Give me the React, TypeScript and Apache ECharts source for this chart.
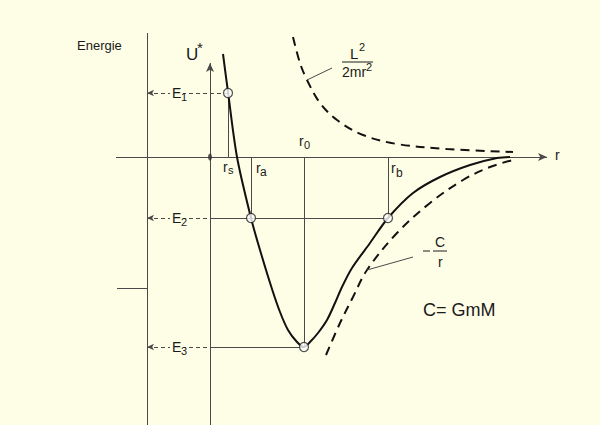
import React, { useEffect, useRef } from 'react';
import * as echarts from 'echarts';

// effective potential U* (r, value)
const uR = [1.3, 1.8, 2.7, 4.1, 5.0, 6.2, 7.0, 7.8, 8.7, 9.4, 10.0, 10.8, 11.7, 12.5, 13.2, 14.2, 16.0, 17.8, 20.3, 23.0, 26.0, 28.7, 30.0];
const uV = [10.3, 6.5, 0, -6.1, -9.3, -13.2, -15.5, -17.3, -18.5, -19.0, -18.5, -17.6, -16.3, -14.6, -13.0, -11.1, -8.6, -6.1, -3.6, -2.0, -0.8, -0.1, 0];
// centrifugal term L^2 / 2mr^2
const centR = [8.3, 9.0, 9.7, 11.0, 12.7, 15.3, 18.7, 23.7, 30.3];
const centV = [12.0, 9.4, 7.7, 5.4, 3.7, 2.2, 1.3, 0.8, 0.5];
// gravitational term -C/r
const gravR = [11.6, 13.0, 14.3, 15.7, 18.7, 22.0, 25.3, 28.0, 30.3];
const gravV = [-19.8, -16.6, -14.0, -11.3, -7.6, -4.6, -2.3, -1.0, -0.3];
// energy levels and radii
const levelE = [6.4, -6.1, -19.0]; // E1, E2, E3
const rS = 1.8;
const rA = 4.1;
const r0 = 9.4;
const rB = 17.8;
// axis extents
const xMin = -21;
const xMax = 39;
const yMin = -26.8;
const yMax = 15.7;
const energyAxisR = -6.3;
const energyAxisTop = 12.4;
const rAxisStart = -9.4;
const rAxisEnd = 33.7;
const uAxisTop = 9.4;
const tickE = -13.1;
const tickStart = -9.3;
const centLeaderEnd = [12.2, 8.9];
const gravLeaderEnd = [20.3, -10.0];

const FONT = '"Liberation Sans", Arial, Helvetica, sans-serif';
const BG = '#FEFEE6';
const INK = '#1a1a1a';
const GREY = '#4a4a4a';

function txt(text: string, x: number, y: number, size: number, extra: any = {}) {
  return {
    type: 'text',
    x,
    y,
    z: 100,
    silent: true,
    style: {
      text,
      fontSize: size,
      fontFamily: FONT,
      fill: INK,
      align: 'left',
      verticalAlign: 'middle',
      ...extra,
    },
  };
}

export default function App() {
  const ref = useRef<HTMLDivElement>(null);
  useEffect(() => {
    if (!ref.current) return;
    const chart = echarts.init(ref.current, null, { renderer: 'svg' });
    const [E1, E2, E3] = levelE;
    const pair = (a: number[], b: number[], endExtra: any = {}) => [
      { coord: a },
      { coord: b, ...endExtra },
    ];
    const maskBg = { backgroundColor: BG, padding: [0, 2] };
    const option: any = {
      animation: false,
      backgroundColor: BG,
      grid: { left: 0, right: 0, top: 0, bottom: 0 },
      xAxis: { type: 'value', min: xMin, max: xMax, show: false },
      yAxis: { type: 'value', min: yMin, max: yMax, show: false },
      series: [
        {
          type: 'line',
          name: 'U*',
          data: uR.map((r, i) => [r, uV[i]]),
          smooth: 0.3,
          showSymbol: false,
          lineStyle: { color: '#111', width: 2 },
          z: 5,
          silent: true,
        },
        {
          type: 'line',
          name: 'L2/2mr2',
          data: centR.map((r, i) => [r, centV[i]]),
          smooth: 0.35,
          showSymbol: false,
          lineStyle: { color: '#111', width: 2, type: [9, 6] },
          z: 4,
          silent: true,
        },
        {
          type: 'line',
          name: '-C/r',
          data: gravR.map((r, i) => [r, gravV[i]]),
          smooth: 0.35,
          showSymbol: false,
          lineStyle: { color: '#111', width: 2, type: [9, 6] },
          z: 4,
          silent: true,
        },
        {
          type: 'line',
          name: 'guides',
          data: [[0, 0]],
          showSymbol: false,
          lineStyle: { width: 0 },
          silent: true,
          markLine: {
            silent: true,
            animation: false,
            symbol: ['none', 'none'],
            label: { show: false },
            emphasis: { disabled: true },
            lineStyle: { color: GREY, width: 1, type: 'solid' },
            data: [
              pair([energyAxisR, energyAxisTop], [energyAxisR, yMin]),
              pair([tickStart, tickE], [energyAxisR, tickE]),
              pair([rAxisStart, 0], [rAxisEnd, 0], { symbol: 'arrow', symbolSize: [6, 9] }),
              pair([0, yMin], [0, uAxisTop], { symbol: 'arrow', symbolSize: [6, 9] }),
              pair([rS, 0], [rS, E1]),
              pair([rA, 0], [rA, E2]),
              pair([rB, 0], [rB, E2]),
              pair([r0, 0], [r0, E3]),
              pair([0, E2], [rB, E2]),
              pair([0, E3], [r0, E3]),
              pair([centR[2], centV[2]], centLeaderEnd),
              pair([gravR[3], gravV[3]], gravLeaderEnd),
            ],
          },
        },
        {
          type: 'line',
          name: 'levels',
          data: [[0, 0]],
          showSymbol: false,
          lineStyle: { width: 0 },
          silent: true,
          markLine: {
            silent: true,
            animation: false,
            symbol: ['arrow', 'none'],
            symbolSize: [5, 7],
            label: { show: false },
            emphasis: { disabled: true },
            lineStyle: { color: GREY, width: 1, type: [4, 3] },
            data: [
              pair([energyAxisR, E1], [rS, E1]),
              pair([energyAxisR, E2], [0, E2]),
              pair([energyAxisR, E3], [0, E3]),
            ],
          },
        },
        {
          type: 'scatter',
          name: 'points',
          data: [
            [rS, E1],
            [rA, E2],
            [rB, E2],
            [r0, E3],
          ],
          symbol: 'circle',
          symbolSize: 9,
          itemStyle: { color: '#ffffff', borderColor: '#222', borderWidth: 1.2 },
          z: 10,
          silent: true,
        },
        {
          type: 'scatter',
          name: 'origin',
          data: [[0, 0]],
          symbol: 'circle',
          symbolSize: [4, 7],
          itemStyle: { color: '#333' },
          z: 10,
          silent: true,
        },
      ],
      graphic: [
        txt('Energie', 77, 45, 13),
        txt('U', 186, 54, 17),
        txt('*', 197, 47, 15),
        txt('E', 170, 93, 14, maskBg),
        txt('1', 181, 97, 11),
        txt('E', 170, 218, 14, maskBg),
        txt('2', 181, 222, 11),
        txt('E', 170, 347, 14, maskBg),
        txt('3', 181, 351, 11),
        txt('r', 223, 167, 14),
        txt('s', 228, 170, 11),
        txt('r', 256, 168, 14),
        txt('a', 260, 172, 12),
        txt('r', 299, 141, 14),
        txt('0', 304, 145, 11),
        txt('r', 391, 168, 14),
        txt('b', 396, 173, 12),
        txt('r', 555, 155, 14),
        txt('L', 350, 53, 15),
        txt('2', 359, 47, 11),
        {
          type: 'line',
          z: 100,
          silent: true,
          shape: { x1: 342, y1: 62, x2: 373, y2: 62 },
          style: { stroke: INK, lineWidth: 1 },
        },
        txt('2mr', 342, 72, 14),
        txt('2', 366, 67, 11),
        {
          type: 'line',
          z: 100,
          silent: true,
          shape: { x1: 423, y1: 251, x2: 430, y2: 251 },
          style: { stroke: INK, lineWidth: 1 },
        },
        {
          type: 'line',
          z: 100,
          silent: true,
          shape: { x1: 433, y1: 251, x2: 447, y2: 251 },
          style: { stroke: INK, lineWidth: 1 },
        },
        txt('C', 435, 242, 14),
        txt('r', 438, 262, 14),
        txt('C= GmM', 423, 310, 18),
      ],
    };
    chart.setOption(option);
    return () => chart.dispose();
  }, []);
  return (
    <div
      ref={ref}
      style={{ position: 'fixed', left: 0, top: 0, width: 600, height: 425 }}
    />
  );
}
